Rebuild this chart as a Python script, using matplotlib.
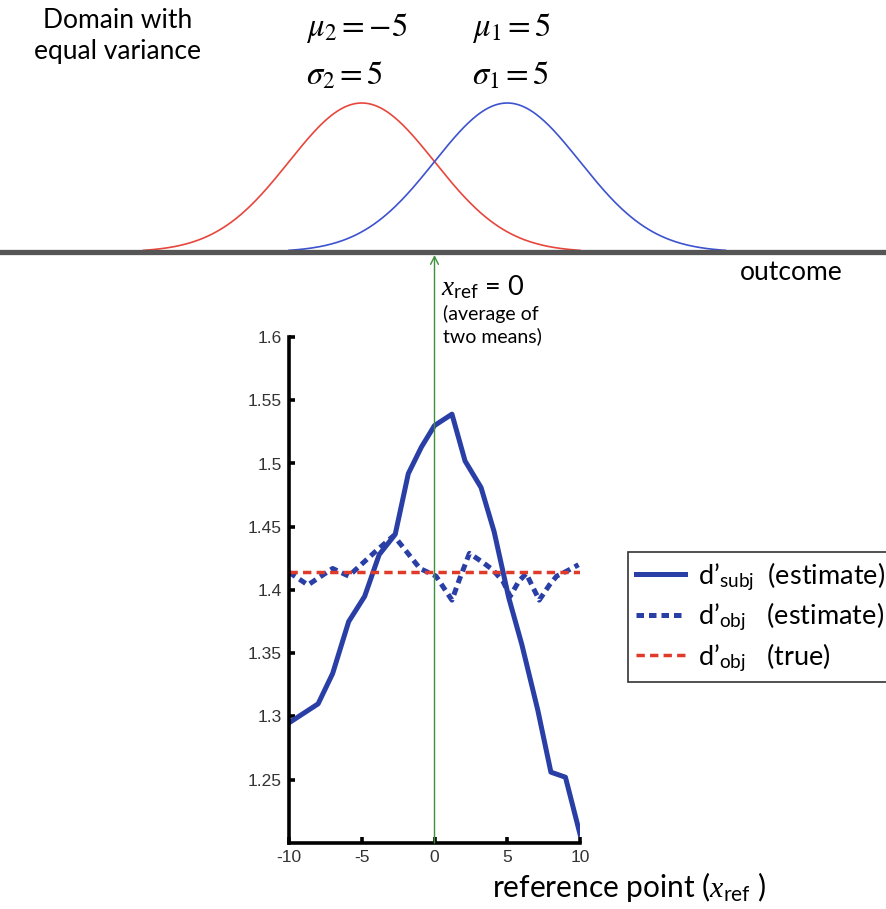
"""d' as a function of the reference point, for two equal-variance domains."""

import matplotlib

matplotlib.use("Agg")
import matplotlib.pyplot as plt
import numpy as np

# domain parameters (red = 2, blue = 1)
domain_means = [-5, 5]
domain_sigmas = [5, 5]
domain_colors = ["#e8463c", "#3c52cf"]

# d'_subj estimate over reference points
x_subj = [-10, -8, -7, -5.9, -4.8, -3.8, -2.7, -1.8, -0.9, 0, 1.2, 2.1,
          3.2, 4.1, 5.1, 6.0, 7.1, 8.0, 9.0, 10]
d_subj = [1.295, 1.310, 1.334, 1.375, 1.395, 1.428, 1.444, 1.492, 1.513,
          1.530, 1.539, 1.502, 1.481, 1.446, 1.394, 1.357, 1.305, 1.256,
          1.252, 1.207]

# d'_obj estimate over reference points
x_obj = [-10, -8.7, -7.0, -5.9, -4.1, -2.8, -1.0, 0.1, 1.2, 1.7, 2.4, 3.3,
         4.0, 4.7, 5.2, 5.8, 6.3, 7.2, 7.9, 8.4, 9.1, 9.9]
d_obj = [1.414, 1.404, 1.417, 1.411, 1.430, 1.443, 1.417, 1.411, 1.392,
         1.408, 1.429, 1.422, 1.416, 1.407, 1.395, 1.407, 1.413, 1.392,
         1.404, 1.411, 1.415, 1.420]

# true d'_obj
d_true = 1.414

x_ticks = [-10, -5, 0, 5, 10]
y_ticks = [1.25, 1.3, 1.35, 1.4, 1.45, 1.5, 1.55, 1.6]
y_tick_labels = ["1.25", "1.3", "1.35", "1.4", "1.45", "1.5", "1.55", "1.6"]

W, H = 886, 909
TEXT_FONT = ["Lato", "DejaVu Sans"]

plt.rcParams["mathtext.fontset"] = "custom"
plt.rcParams["mathtext.rm"] = "Lato"
plt.rcParams["mathtext.it"] = "Liberation Serif:italic"


def px(x, y):
    """Pixel position (from top left) to figure fraction."""
    return x / W, 1 - y / H


fig = plt.figure(figsize=(W / 100, H / 100), dpi=100)

# lower panel: d' against reference point
ax_left, ax_right, ax_top_px, ax_bottom = 289, 580, 337, 843
ax = fig.add_axes([ax_left / W, 1 - ax_bottom / H,
                   (ax_right - ax_left) / W, (ax_bottom - ax_top_px) / H])

blue = "#2a3fa6"
ax.plot(x_subj, d_subj, color=blue, lw=3.6, solid_joinstyle="round",
        label="d’$_{\\mathrm{subj}}$  (estimate)")
ax.plot(x_obj, d_obj, color=blue, lw=3.6, linestyle=(0, (1.5, 1.0)),
        label="d’$_{\\mathrm{obj}}$   (estimate)")
ax.plot([-10, 10], [d_true, d_true], color="#e03a2a", lw=2.5,
        linestyle=(0, (2.4, 1.5)), label="d’$_{\\mathrm{obj}}$   (true)")

ax.set_xlim(-10, 10)
ax.set_ylim(1.2, 1.6)
ax.set_xticks(x_ticks)
ax.set_xticklabels([str(t) for t in x_ticks])
ax.set_yticks(y_ticks)
ax.set_yticklabels(y_tick_labels)
for side in ("top", "right"):
    ax.spines[side].set_visible(False)
for side in ("left", "bottom"):
    ax.spines[side].set_linewidth(2.6)
ax.tick_params(direction="in", length=4, width=2.6, labelsize=12.5,
               labelcolor="#333333", pad=5)
for lab in ax.get_xticklabels() + ax.get_yticklabels():
    lab.set_family("Liberation Sans")

# top panel: the two distributions on the outcome axis
px_per_unit = (ax_right - ax_left) / 20
zero_px = ax_left + 10 * px_per_unit
ax_up = fig.add_axes([0, 1 - 300 / H, 1, 300 / H])
ax_up.set_xlim(-zero_px / px_per_unit, (W - zero_px) / px_per_unit)
base_px, peak_px = 252, 103
unit_px = base_px - peak_px
ax_up.set_ylim(-(300 - base_px) / unit_px, base_px / unit_px)
ax_up.axis("off")

for mu, sigma, color in zip(domain_means, domain_sigmas, domain_colors):
    xs = np.linspace(mu - 3 * sigma, mu + 3 * sigma, 300)
    ax_up.plot(xs, np.exp(-0.5 * ((xs - mu) / sigma) ** 2), color=color, lw=1.2)
ax_up.axhline(0, color="#555555", lw=3.8)

# reference point marker running up to the outcome axis
ax.annotate("", xy=(0, 1 - 255 / H), xycoords=("data", "figure fraction"),
            xytext=(0, 1.2), textcoords="data", annotation_clip=False,
            arrowprops=dict(arrowstyle="->", color="#3f8f3f", lw=1.0,
                            shrinkA=0, shrinkB=0, mutation_scale=14))

# labels
fig.text(*px(118, 36), "Domain with\nequal variance", family=TEXT_FONT,
         fontsize=19, ha="center", va="center", linespacing=1.25)
fig.text(*px(306, 28), "$\\mu_2 = -5$", math_fontfamily="stix", fontsize=23.5,
         ha="left", va="center")
fig.text(*px(306, 75), "$\\sigma_2 = 5$", math_fontfamily="stix", fontsize=23.5,
         ha="left", va="center")
fig.text(*px(472, 28), "$\\mu_1 = 5$", math_fontfamily="stix", fontsize=23.5,
         ha="left", va="center")
fig.text(*px(472, 75), "$\\sigma_1 = 5$", math_fontfamily="stix", fontsize=23.5,
         ha="left", va="center")
fig.text(*px(441, 287), "$\\mathit{x}_{\\mathrm{ref}}$ = 0", family=TEXT_FONT,
         fontsize=19.5, ha="left", va="center")
fig.text(*px(443, 325), "(average of\ntwo means)", family=TEXT_FONT,
         fontsize=14, ha="left", va="center", linespacing=1.25)
fig.text(*px(791, 272), "outcome", family=TEXT_FONT, fontsize=19,
         ha="center", va="center")
fig.text(*px(492, 887), "reference point ($\\mathit{x}_{\\mathrm{ref}}$ )",
         family=TEXT_FONT, fontsize=21.5, ha="left", va="center")

leg = ax.legend(loc="upper left", bbox_to_anchor=px(628, 552),
                bbox_transform=fig.transFigure, prop={"family": TEXT_FONT, "size": 19.5},
                frameon=True, fancybox=False, borderaxespad=0, handlelength=1.8,
                labelspacing=0.3, borderpad=0.3, handletextpad=0.5)
leg.get_frame().set_edgecolor("black")
leg.get_frame().set_linewidth(1.2)

fig.savefig("out.png", dpi=100)
